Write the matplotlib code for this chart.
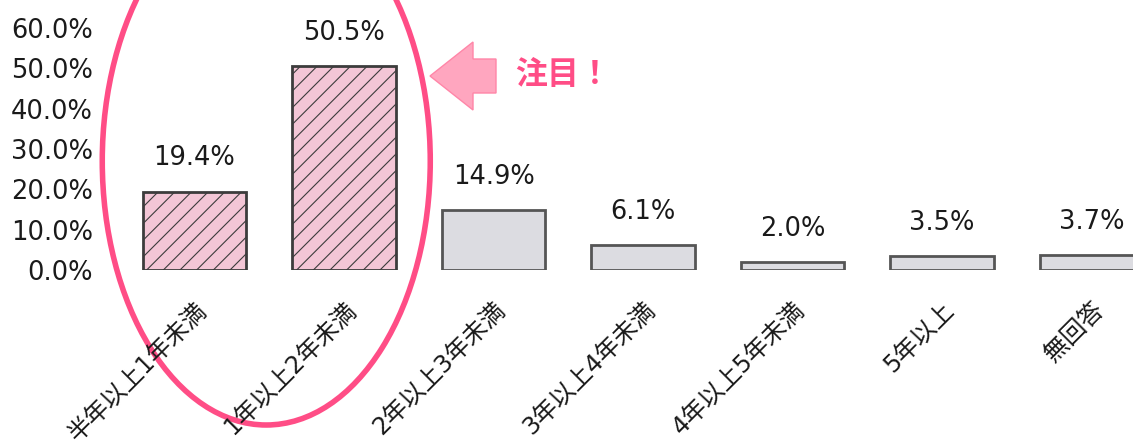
import matplotlib.pyplot as plt
import matplotlib.patches as mpatches
from matplotlib.ticker import FuncFormatter

plt.rcParams['font.family'] = ['DejaVu Sans', 'Noto Sans CJK JP']
plt.rcParams['hatch.linewidth'] = 0.8

# data
categories = ['半年以上1年未満', '1年以上2年未満', '2年以上3年未満', '3年以上4年未満',
              '4年以上5年未満', '5年以上', '無回答']
values = [19.4, 50.5, 14.9, 6.1, 2.0, 3.5, 3.7]
highlight = [True, True, False, False, False, False, False]

W, H = 1133, 441
fig = plt.figure(figsize=(W / 100, H / 100), dpi=100)
# axes placed in pixels: left 100, right 1133, bottom at y=270, top at y=28
ax = fig.add_axes([100 / W, (H - 270) / H, (W - 100) / W, 242 / H])

pink = '#f3c6d6'
gray = '#dcdce1'
edge = '#3c3c3c'

x = list(range(len(categories)))
for i, v in enumerate(values):
    if highlight[i]:
        ax.bar(i, v, width=0.69, color=pink, edgecolor=edge, linewidth=2, hatch='//')
    else:
        ax.bar(i, v, width=0.69, color=gray, edgecolor='#555555', linewidth=2)
    ax.annotate(f'{v:.1f}%', (i, v), xytext=(0, 24), textcoords='offset points',
                ha='center', va='center', fontsize=18.5, color='#1a1a1a')

ax.set_ylim(0, 60)
ax.set_xlim((100 - 194.5) / 149.5, (W - 194.5) / 149.5)
ax.set_yticks([0, 10, 20, 30, 40, 50, 60])
ax.yaxis.set_major_formatter(FuncFormatter(lambda v, p: f'{v:.1f}%'))
ax.set_xticks(x)
ax.set_xticklabels(categories, rotation=45, ha='right', va='top', rotation_mode='anchor')
ax.tick_params(axis='both', length=0, colors='#1a1a1a')
ax.tick_params(axis='y', pad=5, labelsize=18.5)
ax.tick_params(axis='x', pad=20, labelsize=17.5)
for s in ax.spines.values():
    s.set_visible(False)

# pink ellipse round the first two bars (centre y=161 px, 328 x 528 px)
ell = mpatches.Ellipse((0.48, (270 - 161) / 242 * 60), 328 / 149.5, 528 / 242 * 60,
                       fill=False, edgecolor='#ff4d86', linewidth=4, clip_on=False)
ax.add_patch(ell)

# arrow and "注目！"
def fp(px, py):
    return (px / W, (H - py) / H)

arrow = mpatches.Polygon([fp(430, 76), fp(473, 42), fp(473, 59), fp(496, 59),
                          fp(496, 93), fp(473, 93), fp(473, 110)],
                         closed=True, facecolor='#ffa6bf', edgecolor='#ff86a8',
                         linewidth=1, transform=fig.transFigure)
fig.add_artist(arrow)
fig.text(*fp(515, 75), '注目！', fontsize=23, fontweight='bold', color='#ff4d86',
         ha='left', va='center', family=['Noto Sans CJK JP', 'DejaVu Sans'])

fig.savefig('out.png', dpi=100)
